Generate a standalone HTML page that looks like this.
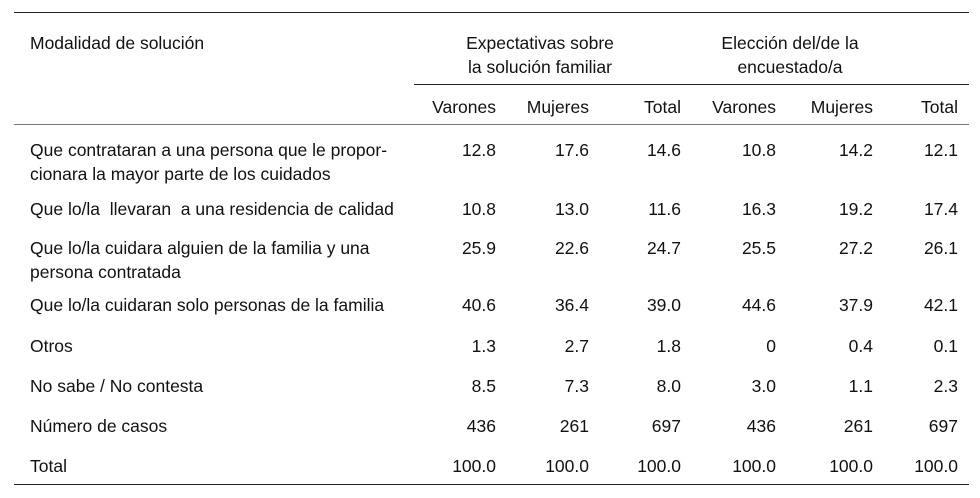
<!DOCTYPE html>
<html><head><meta charset="utf-8"><style>
body{margin:0;width:980px;height:498px;background:#fff;position:relative;font-family:"Liberation Sans",sans-serif;font-size:17.5px;color:#111;overflow:hidden}
.t{position:absolute;white-space:pre;line-height:24px}
.r{text-align:right;width:100px}
.c{text-align:center;width:220px}
.ln{position:absolute;height:1px;background:#222}
</style></head><body>
<div class="ln" style="left:14px;top:12px;width:955px"></div>
<div class="ln" style="left:414px;top:84px;width:555px"></div>
<div class="ln" style="left:14px;top:124px;width:955px;background:#777"></div>
<div class="ln" style="left:14px;top:484px;width:955px"></div>
<div class="t" style="left:30px;top:31px">Modalidad de solución</div>
<div class="t c" style="left:430px;top:31px">Expectativas sobre<br>la solución familiar</div>
<div class="t c" style="left:680px;top:31px">Elección del/de la<br>encuestado/a</div>
<script>
const cols=["Varones","Mujeres","Total","Varones","Mujeres","Total"];
const rows=[["Que contrataran a una persona que le propor-","cionara la mayor parte de los cuidados"],["Que lo/la  llevaran  a una residencia de calidad"],["Que lo/la cuidara alguien de la familia y una","persona contratada"],["Que lo/la cuidaran solo personas de la familia"],["Otros"],["No sabe / No contesta"],["Número de casos"],["Total"]];
const vals=[["12.8","17.6","14.6","10.8","14.2","12.1"],["10.8","13.0","11.6","16.3","19.2","17.4"],["25.9","22.6","24.7","25.5","27.2","26.1"],["40.6","36.4","39.0","44.6","37.9","42.1"],["1.3","2.7","1.8","0","0.4","0.1"],["8.5","7.3","8.0","3.0","1.1","2.3"],["436","261","697","436","261","697"],["100.0","100.0","100.0","100.0","100.0","100.0"]];
const colRight=[496,589,681,776,873,958];
const rowTop=[138,197,236,293,334,374,414,454];
const body=document.body;
function add(txt,x,y,cls){const d=document.createElement('div');d.className='t '+cls;d.innerHTML=txt;d.style.left=x+'px';d.style.top=y+'px';body.appendChild(d);return d;}
cols.forEach((c,i)=>{const d=add(c,colRight[i]-100,95,'r');

});
rows.forEach((r,i)=>{const d=add(r.join('<br>'),30,rowTop[i],'');


vals[i].forEach((v,j)=>{const e=add(v,colRight[j]-100,rowTop[i],'r');

});});
</script>
</body></html>
